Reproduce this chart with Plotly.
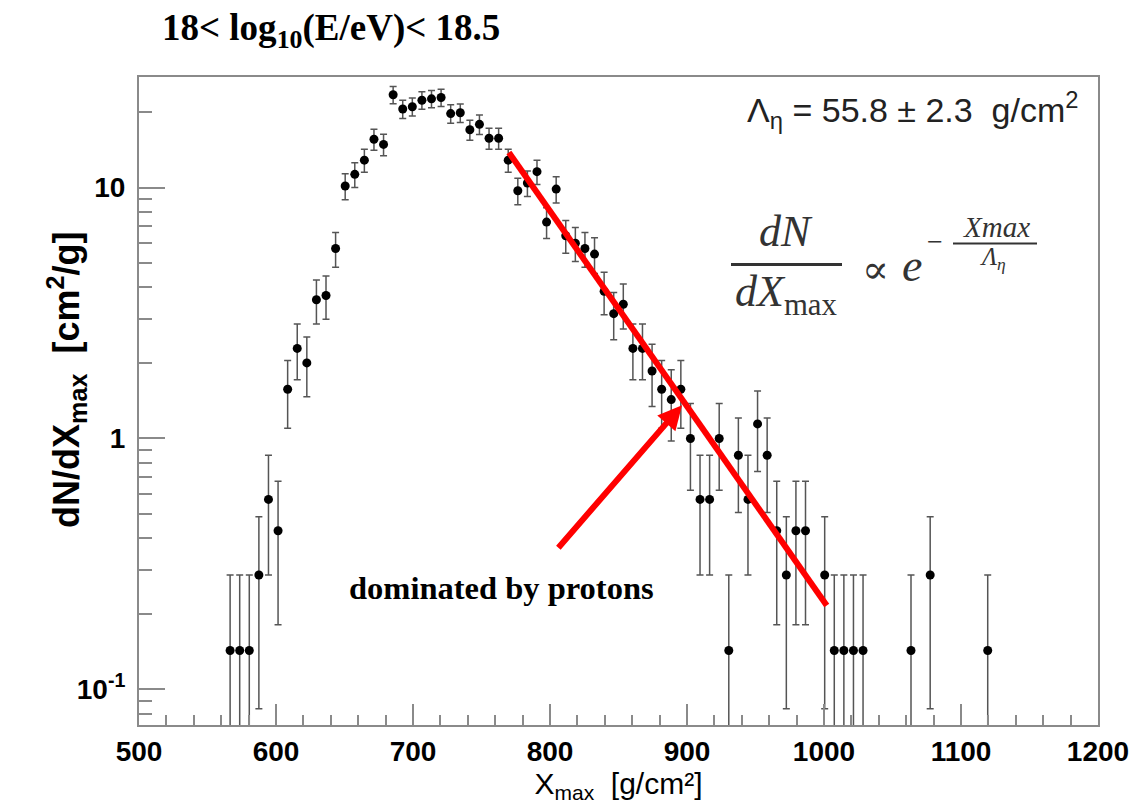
import numpy as np
import plotly.graph_objects as go

# ---- Xmax distribution, 18 < log10(E/eV) < 18.5 (7 g/cm^2 bins) ----
bin_width = 7.0
bin_centers = [566.5, 573.5, 580.5, 587.5, 594.5, 601.5, 608.5, 615.5, 622.5, 629.5,
               636.5, 643.5, 650.5, 657.5, 664.5, 671.5, 678.5, 685.5, 692.5, 699.5,
               706.5, 713.5, 720.5, 727.5, 734.5, 741.5, 748.5, 755.5, 762.5, 769.5,
               776.5, 783.5, 790.5, 797.5, 804.5, 811.5, 818.5, 825.5, 832.5, 839.5,
               846.5, 853.5, 860.5, 867.5, 874.5, 881.5, 888.5, 895.5, 902.5, 909.5,
               916.5, 923.5, 930.5, 937.5, 944.5, 951.5, 958.5, 965.5, 972.5, 979.5,
               986.5, 1000.5, 1007.5, 1014.5, 1021.5, 1028.5, 1063.5, 1077.5, 1119.5]
event_counts = [1, 1, 1, 2, 4, 3, 11, 16, 14, 25,
                26, 40, 71, 79, 90, 109, 104, 164, 144, 147,
                156, 158, 160, 138, 139, 119, 125, 110, 110, 90,
                68, 73, 81, 51, 69, 45, 42, 40, 38, 27,
                22, 24, 16, 16, 13, 11, 10, 11, 7, 4,
                4, 7, 1, 6, 4, 8, 6, 3, 2, 3,
                3, 2, 1, 1, 1, 1, 1, 2, 1]

# exponential tail fit
lambda_eta = 55.8
lambda_err = 2.3
fit_start, fit_end = 770.0, 1002.0
fit_norm = 13.8          # dN/dXmax at the start of the fitted range

# axis settings
x_range = [500, 1200]
y_range_log = [-1.142, 1.4406]
y_tick_vals = [0.1, 1, 10]
y_tick_text = ["10<sup>-1</sup>", "1", "10"]
y_minor_vals = [0.08, 0.09, 0.2, 0.3, 0.4, 0.5, 0.6, 0.7, 0.8, 0.9,
                2, 3, 4, 5, 6, 7, 8, 9, 20]

counts = np.array(event_counts, dtype=float)
dn_dx = counts / bin_width
dn_dx_err = np.sqrt(counts) / bin_width
# lower bars of single-event bins run down to zero
err_minus = np.where(counts <= 1, dn_dx * 0.99999, dn_dx_err)

fit_x = np.array([fit_start, fit_end])
fit_y = fit_norm * np.exp(-(fit_x - fit_start) / lambda_eta)

W, H = 1135, 807
ML, MR, MT, MB = 139, 37, 77, 82
PW, PH = W - ML - MR, H - MT - MB


def px(xp):
    return (xp - ML) / PW


def py(yp):
    return (H - MB - yp) / PH


FRAME = "#8a8a8a"
SANS = "Liberation Sans, Arial, sans-serif"
SERIF = "Liberation Serif, Times New Roman, serif"
INK = "#333333"

fig = go.Figure()

fig.add_trace(go.Scatter(
    x=bin_centers, y=dn_dx, mode="markers",
    marker=dict(color="black", size=9),
    error_y=dict(type="data", array=dn_dx_err, arrayminus=err_minus,
                 color="#555555", thickness=1.5, width=3.5),
    showlegend=False, hoverinfo="x+y",
))

fig.add_trace(go.Scatter(
    x=fit_x, y=fit_y, mode="lines",
    line=dict(color="#ff0000", width=6),
    showlegend=False, hoverinfo="skip",
))

fig.update_xaxes(
    range=x_range, showgrid=False, zeroline=False,
    showline=True, linecolor=FRAME, linewidth=2, mirror=True,
    ticks="inside", ticklen=21, tickwidth=1.5, tickcolor=FRAME,
    tickmode="linear", tick0=500, dtick=100,
    minor=dict(ticks="inside", ticklen=10, tickwidth=1.5, tickcolor=FRAME,
               tickmode="linear", tick0=500, dtick=20, showgrid=False),
    tickfont=dict(family=SANS, size=28, color="black", weight="bold"),
    title=dict(text="X<sub>max</sub> &#160;[g/cm²]", standoff=2,
               font=dict(family=SANS, size=30, color="black")),
    automargin=False,
)
fig.update_yaxes(
    type="log", range=y_range_log, showgrid=False, zeroline=False,
    showline=True, linecolor=FRAME, linewidth=2, mirror=True,
    ticks="inside", ticklen=26, tickwidth=1.5, tickcolor=FRAME,
    tickmode="array", tickvals=y_tick_vals, ticktext=y_tick_text,
    minor=dict(ticks="inside", ticklen=13, tickwidth=1.5, tickcolor=FRAME,
               tickmode="array", tickvals=y_minor_vals, showgrid=False),
    tickfont=dict(family=SANS, size=28, color="black", weight="bold"),
    ticklabelstandoff=6,
)

ann = []
# panel title
ann.append(dict(text="<b>18&lt; log<sub>10</sub>(E/eV)&lt; 18.5</b>",
                x=px(160), y=py(31), xanchor="left", yanchor="middle",
                font=dict(family=SERIF, size=37, color="black")))
# fit result
ann.append(dict(text="Λ<sub>η</sub> = 55.8 ± 2.3 &#160;g/cm<sup>2</sup>",
                x=px(1081), y=py(110), xanchor="right", yanchor="middle",
                font=dict(family=SANS, size=34, color="#222222")))
# formula dN/dXmax ∝ exp(-Xmax/Λη)
ann.append(dict(text="<i>dN</i>", x=px(786), y=py(232), xanchor="center", yanchor="middle",
                font=dict(family=SERIF, size=44, color=INK)))
ann.append(dict(text="<i>dX</i><sub>max</sub>", x=px(786), y=py(294), xanchor="center",
                yanchor="middle", font=dict(family=SERIF, size=44, color=INK)))
ann.append(dict(text="∝", x=px(875), y=py(269), xanchor="center", yanchor="middle",
                font=dict(family="DejaVu Serif, serif", size=40, color=INK)))
ann.append(dict(text="<i>e</i>", x=px(912), y=py(265), xanchor="center", yanchor="middle",
                font=dict(family=SERIF, size=46, color=INK)))
ann.append(dict(text="−", x=px(935), y=py(241), xanchor="center", yanchor="middle",
                font=dict(family=SERIF, size=28, color=INK)))
ann.append(dict(text="<i>Xmax</i>", x=px(996), y=py(227), xanchor="center", yanchor="middle",
                font=dict(family=SERIF, size=29, color=INK)))
ann.append(dict(text="<i>Λ<sub>η</sub></i>", x=px(993), y=py(258), xanchor="center",
                yanchor="middle", font=dict(family=SERIF, size=25, color=INK)))
# label + arrow
ann.append(dict(text="<b>dominated by protons</b>", x=px(501), y=py(588),
                xanchor="center", yanchor="middle",
                font=dict(family=SERIF, size=32.5, color="black")))
ann.append(dict(text="", x=896.4, y=0.1327, xref="x", yref="y",
                showarrow=True, ax=-125, ay=144, arrowcolor="#ff0000",
                arrowwidth=6, arrowhead=2, arrowsize=0.8))
# y-axis title
ann.append(dict(text="<b>dN/dX<sub>max</sub> &#160;[cm<sup>2</sup>/g]</b>", x=px(66), y=py(380),
                xanchor="center", yanchor="middle", textangle=-90,
                font=dict(family=SANS, size=36, color="black")))

for a in ann:
    a.setdefault("xref", "paper")
    a.setdefault("yref", "paper")
    a.setdefault("showarrow", False)
fig.update_layout(annotations=ann)

fig.update_layout(
    shapes=[
        dict(type="line", xref="paper", yref="paper", x0=px(731), x1=px(842),
             y0=py(264.5), y1=py(264.5), line=dict(color=INK, width=3)),
        dict(type="line", xref="paper", yref="paper", x0=px(953), x1=px(1037),
             y0=py(243.5), y1=py(243.5), line=dict(color=INK, width=2)),
    ],
    width=W, height=H,
    margin=dict(l=ML, r=MR, t=MT, b=MB),
    paper_bgcolor="white", plot_bgcolor="white",
    font=dict(family=SANS, color="black"),
)

fig.write_html("out.html")
